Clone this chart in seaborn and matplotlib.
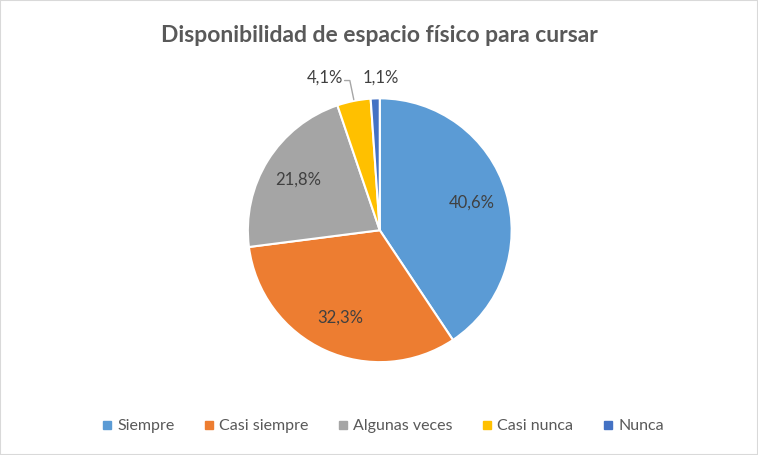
import matplotlib
matplotlib.use("Agg")
import matplotlib.pyplot as plt
import numpy as np
import seaborn as sns

categories = ["Siempre", "Casi siempre", "Algunas veces", "Casi nunca", "Nunca"]
values = [40.6, 32.3, 21.8, 4.1, 1.1]
colors = ["#5B9BD5", "#ED7D31", "#A5A5A5", "#FFC000", "#4472C4"]
title = "Disponibilidad de espacio físico para cursar"

sns.set_theme(style="white")
plt.rcParams["font.family"] = ["Lato", "DejaVu Sans"]

fig = plt.figure(figsize=(7.58, 4.55), dpi=100)
ax = fig.add_axes([0.327, 0.204, 0.348, 0.580])

wedges, _ = ax.pie(values, colors=colors, startangle=90, counterclock=False,
                   wedgeprops=dict(edgecolor="white", linewidth=1.5))
ax.set_xlim(-1, 1)
ax.set_ylim(-1, 1)
ax.set_aspect("equal")

def fmt(v):
    return f"{v:.1f}%".replace(".", ",")

# inner labels
for w, v in zip(wedges[:3], values[:3]):
    ang = np.deg2rad((w.theta1 + w.theta2) / 2)
    r = 0.73
    ax.text(r * np.cos(ang), r * np.sin(ang), fmt(v), ha="center", va="center",
            fontsize=12, color="#404040")

# outer labels for the small slices
label_y = 1.155
w = wedges[3]
ang = np.deg2rad((w.theta1 + w.theta2) / 2)
ex, ey = np.cos(ang), np.sin(ang)
ax.text(ex - 0.22, label_y, fmt(values[3]), ha="center", va="center",
        fontsize=12, color="#404040", clip_on=False)
ax.plot([ex - 0.07, ex - 0.03, ex], [label_y - 0.02, label_y - 0.02, ey + 0.01],
        color="#A6A6A6", lw=1, clip_on=False)

w = wedges[4]
ang = np.deg2rad((w.theta1 + w.theta2) / 2)
ex, ey = np.cos(ang), np.sin(ang)
ax.text(ex + 0.045, label_y, fmt(values[4]), ha="center", va="center",
        fontsize=12, color="#404040", clip_on=False)

fig.text(0.501, 0.923, title, ha="center", va="center", fontsize=16.5,
         fontweight="bold", color="#595959")

handles = [plt.Line2D([], [], marker="s", linestyle="", markersize=6,
                      markerfacecolor=c, markeredgecolor=c) for c in colors]
fig.legend(handles, categories, loc="center", bbox_to_anchor=(0.505, 0.063),
           ncol=5, frameon=False, fontsize=11.5, handlelength=0.6,
           handletextpad=0.35, columnspacing=1.85, labelcolor="#595959")

fig.patches.append(plt.Rectangle((0, 0), 1, 1, transform=fig.transFigure,
                                 fill=False, edgecolor="#D9D9D9", lw=1.5))

fig.savefig("out.png", dpi=100)
